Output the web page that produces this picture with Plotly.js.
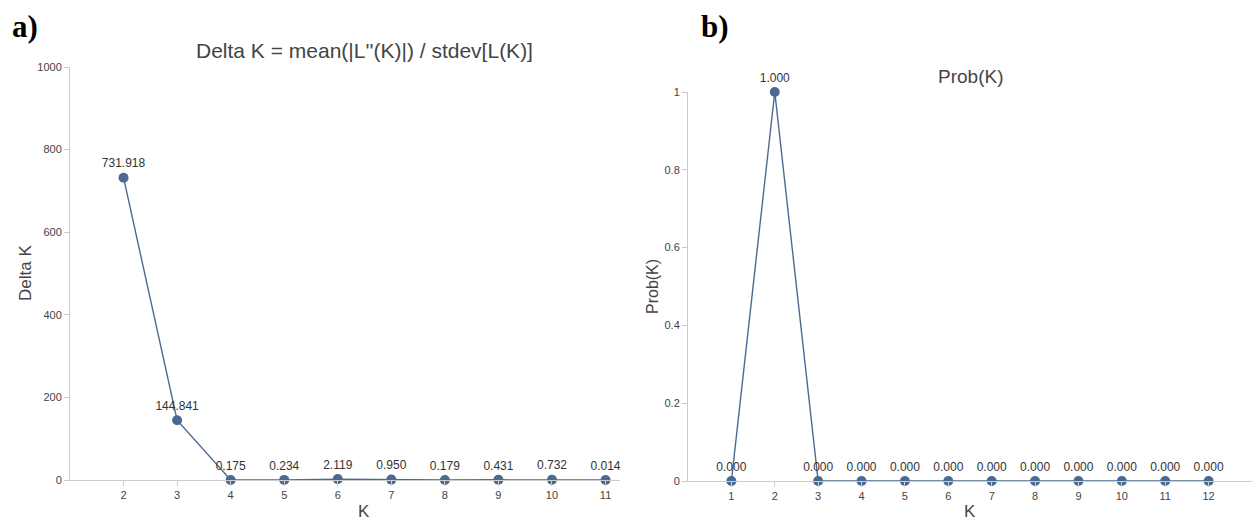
<!DOCTYPE html>
<html><head><meta charset="utf-8">
<script src="https://cdn.plot.ly/plotly-3.0.1.min.js"></script>
<style>html,body{margin:0;padding:0;background:#fff;}#c{width:1252px;height:521px;}</style>
</head><body><div id="c"></div>
<script>
const kDelta = [2, 3, 4, 5, 6, 7, 8, 9, 10, 11];
const deltaK = [731.918, 144.841, 0.175, 0.234, 2.119, 0.950, 0.179, 0.431, 0.732, 0.014];
const kProb = [1, 2, 3, 4, 5, 6, 7, 8, 9, 10, 11, 12];
const probK = [0.000, 1.000, 0.000, 0.000, 0.000, 0.000, 0.000, 0.000, 0.000, 0.000, 0.000, 0.000];
const deltaTicks = [2, 3, 4, 5, 6, 7, 8, 9, 10, 11];
const probTicks = [1, 2, 3, 4, 5, 6, 7, 8, 9, 10, 11, 12];

const col = '#4a6a91';
const font = 'Liberation Sans, Arial, sans-serif';

const traces = [
  {x: kDelta, y: deltaK, xaxis: 'x', yaxis: 'y', mode: 'lines+markers+text',
   text: deltaK.map(v => v.toFixed(3)), textposition: 'top center',
   textfont: {size: 12, color: '#333', family: font},
   line: {color: col, width: 1.4}, marker: {color: col, size: 10}, cliponaxis: false, hoverinfo: 'x+y'},
  {x: kProb, y: probK, xaxis: 'x2', yaxis: 'y2', mode: 'lines+markers+text',
   text: probK.map(v => v.toFixed(3)), textposition: 'top center',
   textfont: {size: 12, color: '#333', family: font},
   line: {color: col, width: 1.4}, marker: {color: col, size: 10}, cliponaxis: false, hoverinfo: 'x+y'}
];

const W = 1252, H = 521;
const ax = {showgrid: false, zeroline: false, showline: true, linecolor: '#cccccc', linewidth: 1,
  ticks: 'outside', ticklen: 5, tickcolor: '#cccccc', tickfont: {size: 11, color: '#444', family: font}};

const ann = (text, x, y, size, angle, extra) => Object.assign({text, xref: 'paper', yref: 'paper', x: x / W, y: 1 - y / H,
  xanchor: 'center', yanchor: 'middle', showarrow: false, textangle: angle || 0,
  font: {size, color: '#444', family: font}}, extra || {});

const layout = {
  width: W, height: H, margin: {l: 0, r: 0, t: 0, b: 0}, showlegend: false,
  paper_bgcolor: '#fff', plot_bgcolor: '#fff', font: {family: font},
  xaxis: Object.assign({}, ax, {domain: [70 / W, 620 / W], range: [1, 11.27], tickvals: deltaTicks, anchor: 'y'}),
  yaxis: Object.assign({}, ax, {domain: [1 - 480 / H, 1 - 67 / H], range: [0, 1000], dtick: 200, anchor: 'x'}),
  xaxis2: Object.assign({}, ax, {domain: [688 / W, 1], range: [0, 13], tickvals: probTicks, anchor: 'y2'}),
  yaxis2: Object.assign({}, ax, {domain: [1 - 481 / H, 1 - 92 / H], range: [0, 1], dtick: 0.2, anchor: 'x2'}),
  annotations: [
    ann('Delta K = mean(|L\'\'(K)|) / stdev[L(K)]', 364, 50, 21),
    ann('Prob(K)', 970, 76, 19),
    ann('K', 364, 511, 17),
    ann('K', 970, 511, 17),
    ann('Delta K', 25, 273, 17, -90),
    ann('Prob(K)', 652, 287, 16, -90),
    ann('<b>a)</b>', 10, 26, 31, 0, {xanchor: 'left', font: {size: 31, color: '#000', family: 'Liberation Serif, Times New Roman, serif'}}),
    ann('<b>b)</b>', 699, 26, 31, 0, {xanchor: 'left', font: {size: 31, color: '#000', family: 'Liberation Serif, Times New Roman, serif'}})
  ]
};

Plotly.newPlot('c', traces, layout, {displayModeBar: false, staticPlot: true});
</script>
</body></html>
